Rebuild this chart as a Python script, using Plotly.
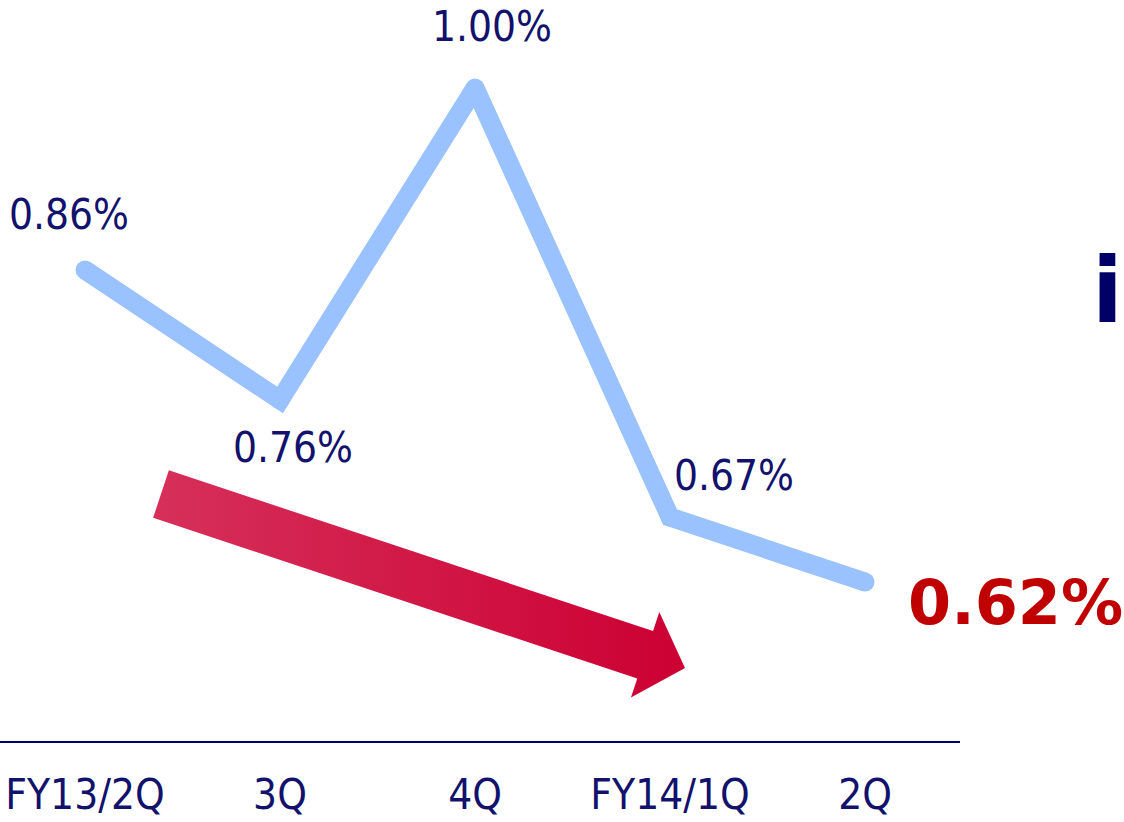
import math
import plotly.graph_objects as go

# ---- data ----
categories = ["FY13/2Q", "3Q", "4Q", "FY14/1Q", "2Q"]
values = [0.86, 0.76, 1.00, 0.67, 0.62]
value_labels = ["0.86%", "0.76%", "1.00%", "0.67%", "0.62%"]

# ---- styles ----
W, H = 1124, 822
NAVY = "#12126C"
LINE_BLUE = "#99C2FF"
RED = "#C00000"
FONT = "DejaVu Sans Condensed, DejaVu Sans, sans-serif"
BOLD_FONT = "DejaVu Sans, sans-serif"

x_idx = list(range(len(categories)))
x_range = [-0.4359, 4.487]
y_range = [0.4977, 1.0677]
x_dom = [0, 960 / W]
y_dom = [(H - 741) / H, 1]

# label offsets in pixels (dx, dy) relative to each point
label_offsets = [(-16, 56), (13, -47), (17, 62), (64, 42), (150, -20)]

fig = go.Figure()


def px_to_data(px, py):
    x0p, x1p = x_dom[0] * W, x_dom[1] * W
    y0p, y1p = (1 - y_dom[0]) * H, (1 - y_dom[1]) * H
    xd = x_range[0] + (px - x0p) / (x1p - x0p) * (x_range[1] - x_range[0])
    yd = y_range[0] + (y0p - py) / (y0p - y1p) * (y_range[1] - y_range[0])
    return xd, yd


# decorative trend arrow geometry (pixels)
tail = (161, 494)
tip = (685, 668)
dx, dy = tip[0] - tail[0], tip[1] - tail[1]
L = math.hypot(dx, dy)
d = (dx / L, dy / L)
n = (-d[1], d[0])
half_w, head_len, head_half = 25, 42, 45
B = (tip[0] - head_len * d[0], tip[1] - head_len * d[1])
poly = [
    (tail[0] - half_w * n[0], tail[1] - half_w * n[1]),
    (B[0] - half_w * n[0], B[1] - half_w * n[1]),
    (B[0] - head_half * n[0], B[1] - head_half * n[1]),
    tip,
    (B[0] + head_half * n[0], B[1] + head_half * n[1]),
    (B[0] + half_w * n[0], B[1] + half_w * n[1]),
    (tail[0] + half_w * n[0], tail[1] + half_w * n[1]),
]
poly.append(poly[0])
ax_, ay_ = zip(*[px_to_data(*p) for p in poly])

fig.add_trace(go.Scatter(
    x=list(ax_), y=list(ay_), mode="lines", fill="toself",
    line=dict(width=0, color="rgba(0,0,0,0)"),
    fillgradient=dict(type="horizontal",
                      colorscale=[[0, "#D6305A"], [1, "#CC0033"]]),
    hoverinfo="skip", showlegend=False,
))

fig.add_trace(go.Scatter(
    x=x_idx, y=values, mode="lines+markers",
    line=dict(color=LINE_BLUE, width=19),
    marker=dict(color=LINE_BLUE, size=19, line=dict(width=0)),
    showlegend=False, cliponaxis=False,
))

for i, (lab, v) in enumerate(zip(value_labels, values)):
    last = i == len(values) - 1
    ox, oy = label_offsets[i]
    fig.add_annotation(
        x=x_idx[i], y=v, xref="x", yref="y", text=lab, showarrow=False,
        xshift=ox, yshift=oy, xanchor="center", yanchor="middle",
        font=dict(family=BOLD_FONT if last else FONT,
                  size=62 if last else 42,
                  color=RED if last else NAVY,
                  weight="bold" if last else "normal"),
    )

# bold text at the right edge
fig.add_annotation(
    x=1, y=(H - 291) / H, xref="paper", yref="paper", text="i",
    showarrow=False, xanchor="right", yanchor="middle", borderpad=0,
    font=dict(family=BOLD_FONT, size=90, color="#000066", weight="bold"),
)

fig.update_layout(
    width=W, height=H, margin=dict(l=0, r=0, t=0, b=0, autoexpand=False),
    paper_bgcolor="white", plot_bgcolor="white",
    xaxis=dict(domain=x_dom, range=x_range, tickmode="array",
               tickvals=x_idx, ticktext=categories, showgrid=False,
               zeroline=False, showline=True, linecolor="#000066",
               linewidth=2, ticks="outside", ticklen=16, automargin=False,
               tickcolor="rgba(0,0,0,0)",
               tickfont=dict(family=FONT, size=42, color=NAVY)),
    yaxis=dict(domain=y_dom, range=y_range, visible=False, automargin=False),
)

fig.write_html("out.html")
